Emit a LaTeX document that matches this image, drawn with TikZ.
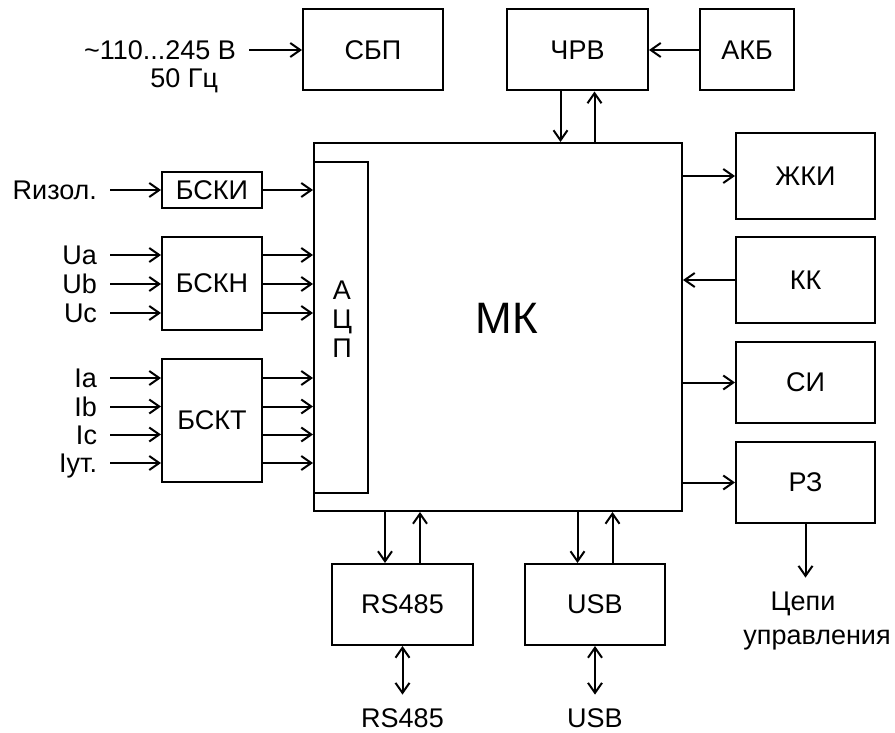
\documentclass[tikz,border=0pt]{standalone}
\usepackage{fontspec}
\setmainfont{Liberation Sans}
\usetikzlibrary{arrows.meta}

\begin{document}
\begin{tikzpicture}[
    x=1pt, y=-1pt,
    font=\fontsize{27}{29}\selectfont,
    block/.style={rectangle, draw, line width=2pt, inner sep=0pt},
    lbl/.style={inner sep=0pt, outer sep=13pt, text height=19.4pt, text depth=0pt},
    line/.style={draw, line width=2pt, -{Straight Barb[length=10pt, width=14pt]}},
    both/.style={draw, line width=2pt, {Straight Barb[length=10pt, width=14pt]}-{Straight Barb[length=10pt, width=14pt]}}
    ]
    \useasboundingbox (0,0) rectangle (895,733);

    \node [block, minimum width=140pt, minimum height=81pt] (sbp) at (373,50) {СБП};
    \node [block, minimum width=141pt, minimum height=81pt] (chrv) at (577.5,50) {ЧРВ};
    \node [block, minimum width=94pt, minimum height=81pt] (akb) at (747,50) {АКБ};
    \node [lbl, anchor=east] (volt) at (249,50) {\textasciitilde110...245 В};
    \node [lbl, anchor=east] (freq) at (231,78) {50 Гц};

    \node [block, minimum width=368pt, minimum height=368pt] (mk) at (498,327) {};
    \node [font=\fontsize{44}{50}\selectfont] (mktext) at (507,318) {МК};
    \node [block, minimum width=54pt, minimum height=331pt] (adc) at (341,327.5) {};
    \node [align=center] (adctext) at (342,319) {А\\Ц\\П};

    \node [block, minimum width=100pt, minimum height=36pt] (bski) at (212,190) {БСКИ};
    \node [block, minimum width=100pt, minimum height=93pt] (bskn) at (212,283.5) {БСКН};
    \node [block, minimum width=100pt, minimum height=123pt] (bskt) at (212,420.5) {БСКТ};

    \node [block, minimum width=139pt, minimum height=86pt] (zhki) at (805.5,176) {ЖКИ};
    \node [block, minimum width=139pt, minimum height=86pt] (kk) at (805.5,280) {КК};
    \node [block, minimum width=139pt, minimum height=81pt] (si) at (805.5,382.5) {СИ};
    \node [block, minimum width=139pt, minimum height=81pt] (rz) at (805.5,482.5) {РЗ};

    \node [block, minimum width=141pt, minimum height=81pt] (rs) at (402.5,604.5) {RS485};
    \node [block, minimum width=140pt, minimum height=81pt] (usb) at (595,604.5) {USB};
    \node [lbl, anchor=base] (rsout) at (402.5,727) {RS485};
    \node [lbl, anchor=base] (usbout) at (595,727) {USB};
    \node [lbl, anchor=base] (ctrl) at (803,610) {Цепи};
    \node [anchor=base] (ctrltwo) at (817,644) {управления};

    \draw [line] (volt.east) -- (sbp.west);
    \draw [line] (akb.west) -- (chrv.east);
    \draw [line] ([xshift=-17pt]chrv.south) -- ([xshift=-17pt]chrv.south |- mk.north);
    \draw [line] ([xshift=17pt]chrv.south |- mk.north) -- ([xshift=17pt]chrv.south);

    \node [lbl, anchor=east] (riso) at (110,190) {Rизол.};
    \draw [line] (riso.east) -- (bski.west);
    \draw [line] (bski.east) -- (bski.east -| mk.west);
    \foreach \name/\txt/\y in {ua/Ua/255, ub/Ub/284, uc/Uc/313} {
        \node [lbl, anchor=east] (\name) at (110,\y) {\txt};
        \draw [line] (\name.east) -- (\name.east -| bskn.west);
        \draw [line] (bskn.east |- \name.east) -- (\name.east -| mk.west);
    }
    \foreach \name/\txt/\y in {ia/Ia/378, ib/Ib/406.5, ic/Ic/434.5, iut/Iут./463} {
        \node [lbl, anchor=east] (\name) at (110,\y) {\txt};
        \draw [line] (\name.east) -- (\name.east -| bskt.west);
        \draw [line] (bskt.east |- \name.east) -- (\name.east -| mk.west);
    }

    \draw [line] (mk.east |- zhki.west) -- (zhki.west);
    \draw [line] (kk.west) -- (kk.west -| mk.east);
    \draw [line] (mk.east |- si.west) -- (si.west);
    \draw [line] (mk.east |- rz.west) -- (rz.west);
    \draw [line] (rz.south) -- (rz.south |- ctrl.north);

    \draw [line] ([xshift=-17.5pt]rs.north |- mk.south) -- ([xshift=-17.5pt]rs.north);
    \draw [line] ([xshift=17.5pt]rs.north) -- ([xshift=17.5pt]rs.north |- mk.south);
    \draw [line] ([xshift=-17.5pt]usb.north |- mk.south) -- ([xshift=-17.5pt]usb.north);
    \draw [line] ([xshift=17.5pt]usb.north) -- ([xshift=17.5pt]usb.north |- mk.south);
    \draw [both] (rs.south) -- (rsout.north);
    \draw [both] (usb.south) -- (usbout.north);
\end{tikzpicture}
\end{document}
